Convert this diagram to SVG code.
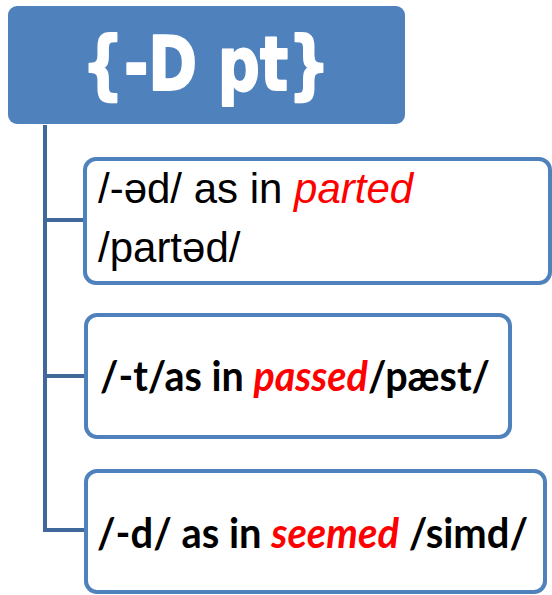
<svg xmlns="http://www.w3.org/2000/svg" width="552" height="595" viewBox="0 0 552 595">
  <style>
    .head { fill: #4F81BD; }
    .title { font-family: "DejaVu Sans", "Liberation Sans", sans-serif; font-weight: bold; font-size: 74px; fill: #FFFFFF; stroke: #FFFFFF; stroke-width: 2; stroke-linejoin: round; }
    .card { fill: #FFFFFF; stroke: #4F81BD; stroke-width: 4; }
    .link { fill: none; stroke: #41689A; stroke-width: 4; }
    .plain { font-family: "Liberation Sans", Arial, sans-serif; font-size: 42px; fill: #000000; }
    .strong { font-family: Lato, "Open Sans", "Liberation Sans", sans-serif; font-weight: bold; font-size: 42px; fill: #000000; }
    .ex { fill: #FF0000; font-style: italic; }
  </style>

  <rect width="552" height="595" fill="#FFFFFF"/>

  <!-- tree connectors -->
  <g id="connectors">
    <path class="link" d="M45,125 V530 H86"/>
    <path class="link" d="M45,220 H85"/>
    <path class="link" d="M45,376 H86"/>
  </g>

  <!-- root -->
  <g id="root">
    <rect class="head" x="8" y="6" width="397" height="118" rx="9"/>
    <text class="title" x="82" y="90" textLength="248" lengthAdjust="spacingAndGlyphs">{-D pt}</text>
  </g>

  <!-- /-əd/ allomorph -->
  <g id="ed">
    <rect class="card" x="85" y="159" width="465" height="124" rx="11"/>
    <text class="plain" x="98" y="203">/-əd/ as in <tspan class="ex">parted</tspan></text>
    <text class="plain" x="98" y="262">/partəd/</text>
  </g>

  <!-- /-t/ allomorph -->
  <g id="t">
    <rect class="card" x="86" y="315" width="424" height="122" rx="11"/>
    <text class="strong" x="100" y="391" textLength="390" lengthAdjust="spacingAndGlyphs">/-t/as in <tspan class="ex">passed</tspan>/pæst/</text>
  </g>

  <!-- /-d/ allomorph -->
  <g id="d">
    <rect class="card" x="86" y="471" width="459" height="121" rx="11"/>
    <text class="strong" x="97" y="548" textLength="431" lengthAdjust="spacingAndGlyphs">/-d/ as in <tspan class="ex">seemed</tspan> /simd/</text>
  </g>
</svg>
